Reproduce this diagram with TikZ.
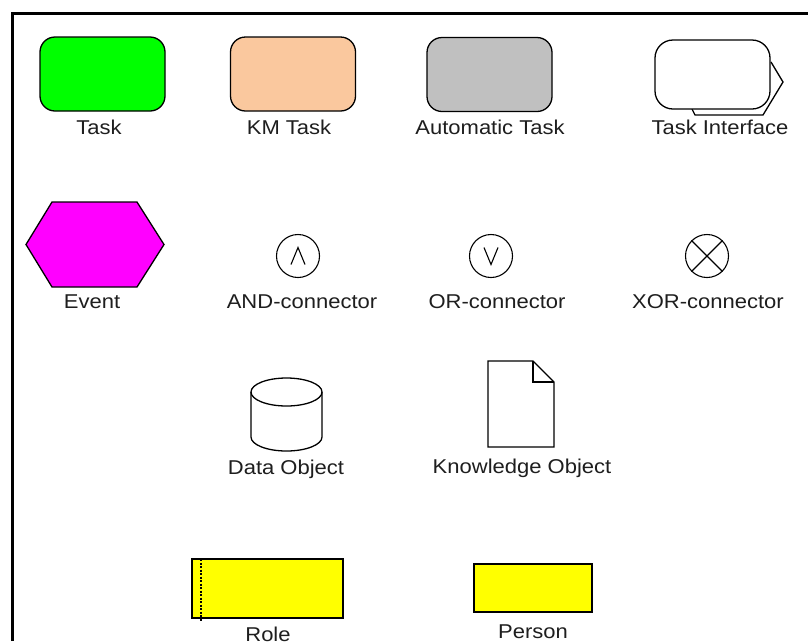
\documentclass[tikz,border=0pt]{standalone}
\usepackage{fontspec}
\setmainfont{Liberation Sans}[FakeStretch=1.1]
\usetikzlibrary{calc}
\definecolor{peach}{RGB}{250,200,158}
\definecolor{txt}{RGB}{30,30,30}
\definecolor{evmag}{RGB}{255,0,255}
\definecolor{ryellow}{RGB}{255,255,0}
\definecolor{tgreen}{RGB}{0,255,0}
\definecolor{tgray}{RGB}{192,192,192}
\begin{document}
\begin{tikzpicture}[x=1pt,y=-1pt,
  shp/.style={draw=black,line width=1.3pt},
  rtask/.style={shp,rounded corners=15pt,minimum width=125pt,minimum height=74pt,inner sep=0pt},
  lbl/.style={anchor=base,text=txt,font=\fontsize{20pt}{22pt}\selectfont,inner sep=0pt},
  conn/.style={shp,line width=1.1pt,circle,minimum size=43pt,inner sep=0pt}]
\useasboundingbox (0,0) rectangle (808,641);
\fill[white] (0,0) rectangle (808,641);
% frame
\draw[line width=3pt] (12.5,641) -- (12.5,13.5) -- (808,13.5);
% row 1
\node[rtask,fill=tgreen] (task) at (102.5,74) {};
\node[lbl] (taskl) at (99,134) {Task};
\node[rtask,fill=peach] (km) at (293,74) {};
\node[lbl] (kml) at (289,134) {KM Task};
\node[rtask,fill=tgray] (auto) at (489.5,74.5) {};
\node[lbl] (autol) at (490,134) {Automatic Task};
\draw[shp] (692,109) -- (695,115) -- (763,115) -- (783,82) -- (771,62);
\node[shp,fill=white,rounded corners=18pt,minimum width=115pt,minimum height=69pt,inner sep=0pt] (ti) at (712.5,74.5) {};
\node[lbl] (til) at (720,134) {Task Interface};
% row 2
\path[shp,fill=evmag] (26,244.5) -- (52,202) -- (137,202) -- (164,244.5) -- (137,287) -- (52,287) -- cycle;
\node[inner sep=0pt] (event) at (95,244.5) {};
\node[lbl] (eventl) at (92,308) {Event};
\node[conn] (and) at (298,256) {};
\draw[shp,line width=1.1pt] ($(and)+(-7,8.5)$) -- ($(and)+(0,-8.5)$) -- ($(and)+(7,8.5)$);
\node[lbl] (andl) at (302,308) {AND-connector};
\node[conn] (or) at (491,256) {};
\draw[shp,line width=1.1pt] ($(or)+(-7,-8.5)$) -- ($(or)+(0,8.5)$) -- ($(or)+(7,-8.5)$);
\node[lbl] (orl) at (497,308) {OR-connector};
\node[conn] (xor) at (707,256) {};
\draw[shp,line width=1.1pt] (xor.north west) -- (xor.south east) (xor.north east) -- (xor.south west);
\node[lbl] (xorl) at (708,308) {XOR-connector};
% row 3
\path[shp,fill=white] (251,392) -- (251,437) arc[start angle=180,end angle=0,x radius=35.5,y radius=14] -- (322,392) arc[start angle=0,end angle=-180,x radius=35.5,y radius=14] -- cycle;
\draw[shp] (251,392) arc[start angle=180,end angle=0,x radius=35.5,y radius=14];
\node[inner sep=0pt] (data) at (286.5,414) {};
\node[lbl] (datal) at (286,474) {Data Object};
\path[shp,fill=white] (488,361) -- (533,361) -- (554,382) -- (554,447) -- (488,447) -- cycle;
\draw[shp] (533,361) -- (533,382) -- (554,382);
\node[inner sep=0pt] (know) at (521,404) {};
\node[lbl] (knowl) at (522,473) {Knowledge Object};
% row 4
\node[shp,fill=ryellow,minimum width=151pt,minimum height=59pt,inner sep=0pt] (role) at (267.5,588.5) {};
\draw[line width=2.2pt,dash pattern=on 2pt off 1.5pt] (201,559) -- (201,621);
\node[lbl] (rolel) at (268,641) {Role};
\node[shp,fill=ryellow,minimum width=118pt,minimum height=48pt,inner sep=0pt] (person) at (533,588) {};
\node[lbl] (personl) at (533,638) {Person};
\end{tikzpicture}
\end{document}
